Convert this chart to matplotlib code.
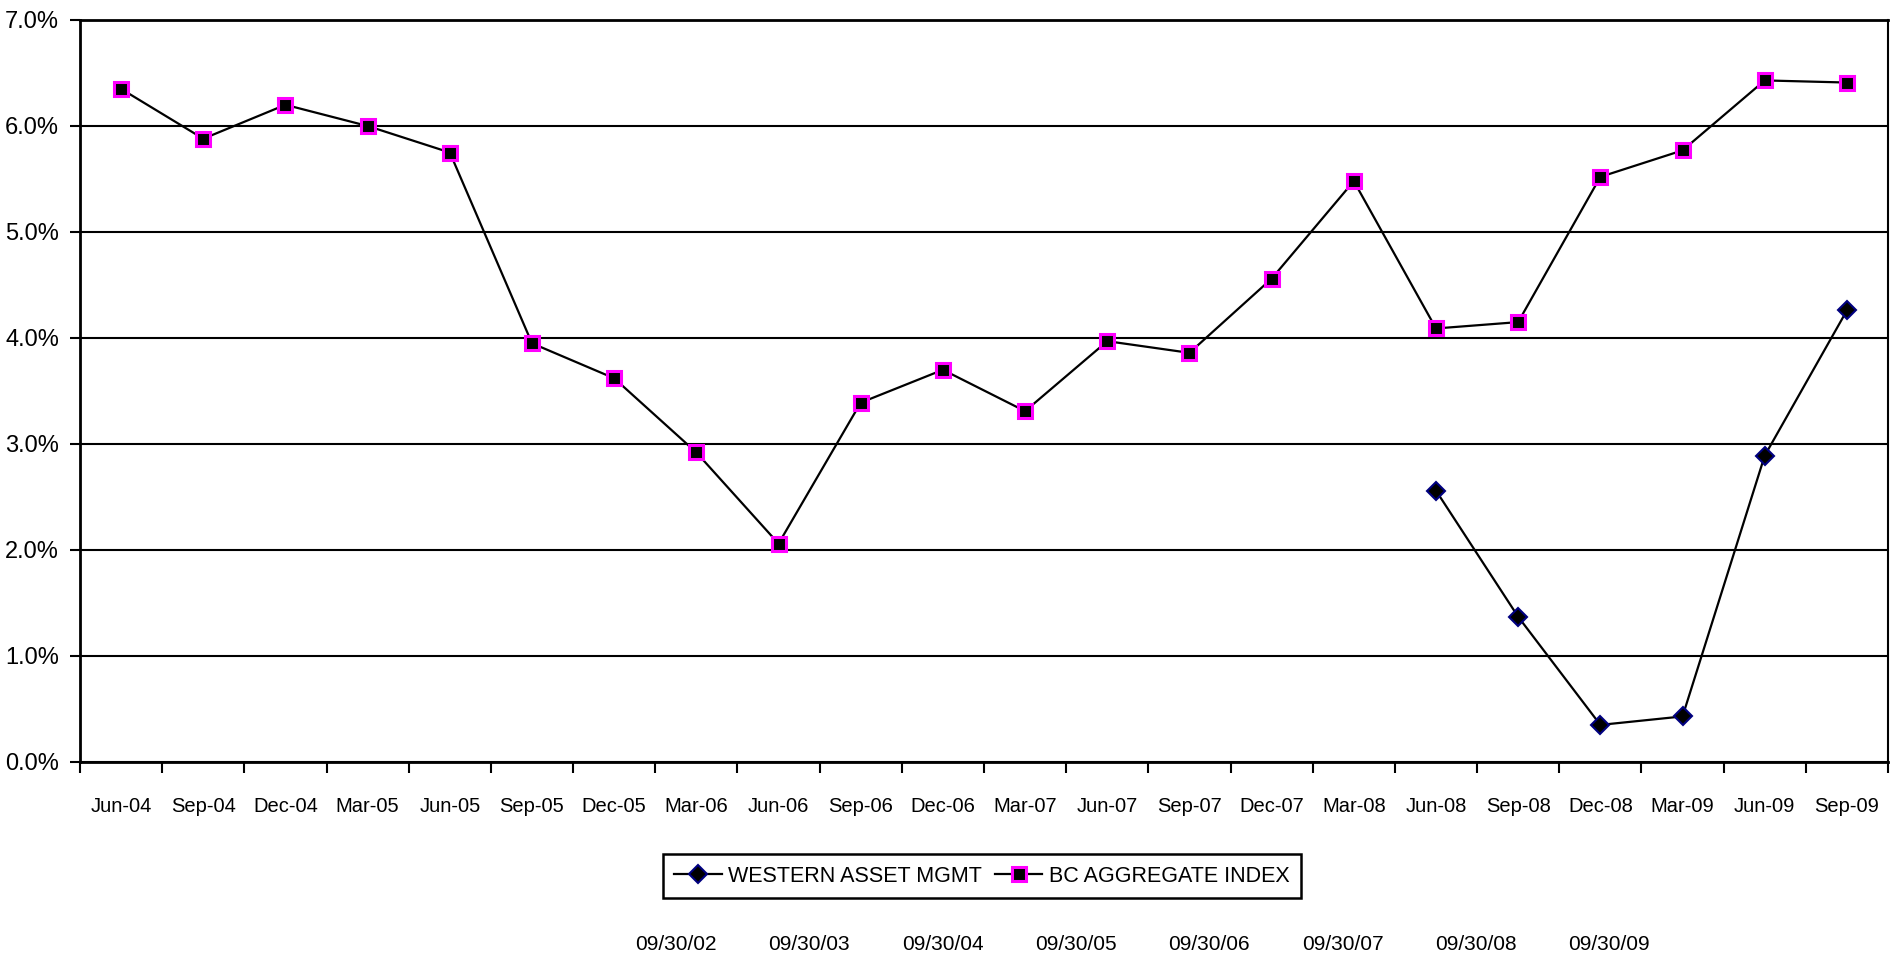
import numpy as np
import matplotlib.pyplot as plt
from matplotlib.ticker import FuncFormatter, MultipleLocator

# quarter labels on the x axis
quarters = ['Jun-04', 'Sep-04', 'Dec-04', 'Mar-05', 'Jun-05', 'Sep-05', 'Dec-05',
            'Mar-06', 'Jun-06', 'Sep-06', 'Dec-06', 'Mar-07', 'Jun-07', 'Sep-07',
            'Dec-07', 'Mar-08', 'Jun-08', 'Sep-08', 'Dec-08', 'Mar-09', 'Jun-09', 'Sep-09']

# BC aggregate index (percent)
bc_index = [6.35, 5.88, 6.20, 6.00, 5.75, 3.95, 3.62, 2.92, 2.06, 3.39, 3.70,
            3.31, 3.97, 3.86, 4.56, 5.48, 4.09, 4.15, 5.52, 5.77, 6.43, 6.41]

# Western Asset, only from Jun-08 on
western_start = 'Jun-08'
western_asset = [2.56, 1.37, 0.35, 0.43, 2.89, 4.26]

# stray date labels under the legend
period_labels = ['09/30/02', '09/30/03', '09/30/04', '09/30/05',
                 '09/30/06', '09/30/07', '09/30/08', '09/30/09']

plt.rcParams['font.family'] = ['Liberation Sans', 'DejaVu Sans']

fig = plt.figure(figsize=(19.02, 9.58), dpi=100)
ax = fig.add_axes([80 / 1902, 1 - 762 / 958, 1808 / 1902, 742 / 958])

x = np.arange(len(quarters))
w0 = quarters.index(western_start)
xw = x[w0:w0 + len(western_asset)]

ax.plot(xw, western_asset, color='black', lw=1.6, marker='D', ms=9.5,
        mfc='black', mec='#000080', mew=1.5, label='WESTERN ASSET MGMT', zorder=3)
ax.plot(x, bc_index, color='black', lw=1.6, marker='s', ms=10,
        mfc='black', mec='#ff00ff', mew=2.2, label='BC AGGREGATE INDEX', zorder=3)

ax.set_xlim(-0.5, len(quarters) - 0.5)
ax.set_ylim(0, 7)
ax.yaxis.set_major_locator(MultipleLocator(1))
ax.yaxis.set_major_formatter(FuncFormatter(lambda v, p: f'{v:.1f}%'))
ax.grid(axis='y', color='black', lw=1.5)
ax.set_axisbelow(True)

ax.set_xticks(x)
ax.set_xticklabels(quarters)
ax.set_xticks(np.arange(len(quarters) + 1) - 0.5, minor=True)
ax.tick_params(axis='x', which='major', length=0, pad=25, labelsize=14.5)
ax.tick_params(axis='x', which='minor', length=8, width=1.5, direction='out')
ax.tick_params(axis='y', length=7, width=1.5, pad=8, labelsize=17)

for s in ['left', 'bottom', 'top', 'right']:
    ax.spines[s].set_linewidth(2)
ax.spines['right'].set_linewidth(1.5)

leg = ax.legend(loc='center', bbox_to_anchor=(982 / 1902, 1 - 876 / 958),
                bbox_transform=fig.transFigure, ncol=2, frameon=True, fancybox=False,
                edgecolor='black', framealpha=1, handlelength=2.2, handletextpad=0.3,
                columnspacing=0.6, borderpad=0.55, prop={'size': 15.5})
leg.get_frame().set_linewidth(1.8)

for i, lab in enumerate(period_labels):
    fig.text((676 + i * 133.3) / 1902, 1 - 945 / 958, lab, ha='center', va='center', fontsize=15)

fig.savefig('out.png', dpi=100, facecolor='white')
